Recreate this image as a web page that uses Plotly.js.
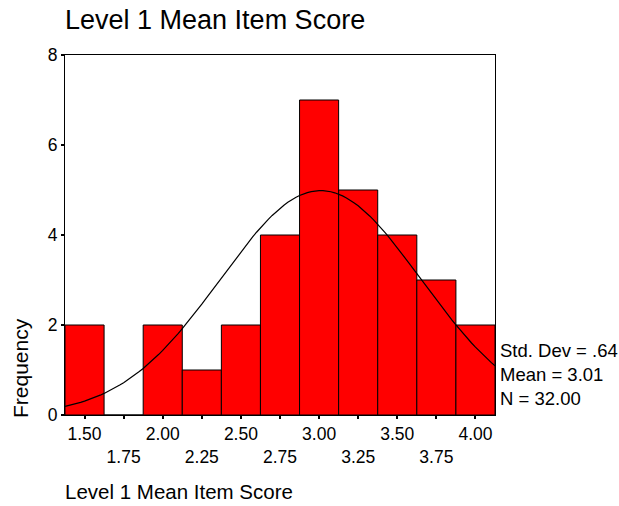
<!DOCTYPE html>
<html>
<head>
<meta charset="utf-8">
<script src="https://cdn.plot.ly/plotly-3.0.1.min.js"></script>
<style>html,body{margin:0;padding:0;background:#fff;}#chart{width:619px;height:506px;}</style>
</head>
<body>
<div id="chart"></div>
<script>
// Data
var binCenters = [1.50, 1.75, 2.00, 2.25, 2.50, 2.75, 3.00, 3.25, 3.50, 3.75, 4.00];
var frequencies = [2, 0, 2, 1, 2, 4, 7, 5, 4, 3, 2];
var tickLabelsTop = ["1.50", "", "2.00", "", "2.50", "", "3.00", "", "3.50", "", "4.00"];
var tickLabelsBottom = ["", "1.75", "", "2.25", "", "2.75", "", "3.25", "", "3.75", ""];
var statLabels = ["Std. Dev = .64", "Mean = 3.01", "N = 32.00"];
var stdDev = 0.64, mean = 3.01, nObs = 32, binWidth = 0.25;

// Normal curve overlay implied by the displayed statistics
var curveX = [], curveY = [];
for (var i = 0; i <= 110; i++) {
  var x = 1.375 + i * (2.75 / 110);
  var z = (x - mean) / stdDev;
  curveX.push(x);
  curveY.push(nObs * binWidth / (stdDev * Math.sqrt(2 * Math.PI)) * Math.exp(-0.5 * z * z));
}

var ticktext = binCenters.map(function (v, k) {
  return tickLabelsTop[k] !== "" ? tickLabelsTop[k] : "<br>" + tickLabelsBottom[k];
});

var font = "Liberation Sans, Arial, Helvetica, sans-serif";

var traces = [
  {
    type: "bar", x: binCenters, y: frequencies, width: binWidth,
    marker: {color: "#ff0000", line: {color: "#000", width: 1}},
    hoverinfo: "x+y"
  },
  {
    type: "scatter", mode: "lines", x: curveX, y: curveY,
    line: {color: "#000", width: 1.2}, hoverinfo: "skip"
  }
];

var annotations = [
  {text: "Frequency", xref: "paper", yref: "paper", x: (20-65)/430, y: (415-368)/360, textangle: -90,
   showarrow: false, xanchor: "center", yanchor: "middle", font: {family: font, size: 21, color: "#000"}},
  {text: "Level 1 Mean Item Score", xref: "paper", yref: "paper", x: -1/430, y: -(492-415)/360,
   showarrow: false, xanchor: "left", yanchor: "middle", borderpad: 0, font: {family: font, size: 20.5, color: "#000"}}
];
var statY = [350, 374, 398];
statLabels.forEach(function (s, k) {
  annotations.push({text: s, xref: "paper", yref: "paper", x: (498-65)/430, y: (415 - statY[k])/360,
    showarrow: false, xanchor: "left", yanchor: "middle", font: {family: font, size: 18.5, color: "#000"}});
});

var layout = {
  width: 619, height: 506,
  margin: {l: 65, r: 124, t: 55, b: 91},
  paper_bgcolor: "#fff", plot_bgcolor: "#fff",
  showlegend: false,
  bargap: 0,
  title: {text: "Level 1 Mean Item Score", xref: "paper", x: 0, xanchor: "left",
          yref: "container", y: 1 - 20/506, yanchor: "middle",
          font: {family: font, size: 27, color: "#000"}},
  xaxis: {
    range: [1.375, 4.125], tickmode: "array", tickvals: binCenters, ticktext: ticktext,
    ticks: "outside", ticklen: 3, tickwidth: 2, tickcolor: "#000",
    showline: true, linecolor: "#000", linewidth: 1, mirror: true,
    showgrid: false, zeroline: false,
    tickfont: {family: font, size: 17.5, color: "#000"}
  },
  yaxis: {
    range: [0, 8], tickvals: [0, 2, 4, 6, 8],
    ticks: "outside", ticklen: 3, tickwidth: 2, tickcolor: "#000",
    showline: true, linecolor: "#000", linewidth: 1, mirror: true,
    showgrid: false, zeroline: false,
    tickfont: {family: font, size: 17.5, color: "#000"}
  },
  annotations: annotations
};

Plotly.newPlot("chart", traces, layout, {displayModeBar: false, staticPlot: true});
</script>
</body>
</html>
